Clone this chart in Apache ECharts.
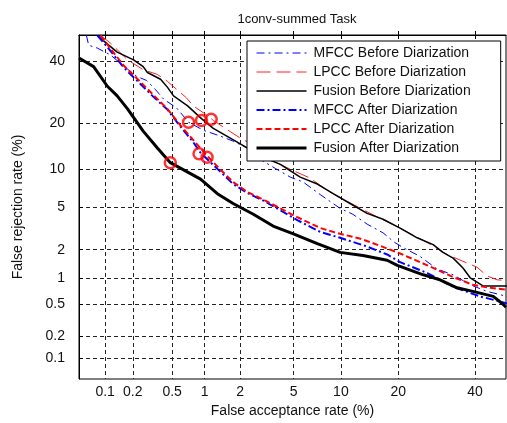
<!DOCTYPE html>
<html>
<head>
<meta charset="utf-8">
<script src="https://cdn.jsdelivr.net/npm/echarts@6/dist/echarts.min.js"></script>
<style>
    html, body { margin: 0; padding: 0; background: #fff; }
    #main { width: 507px; height: 423px; }
</style>
</head>
<body>
<div id="main"></div>
<script>
// tick labels (percent) used on both axes
var tickValues = [0.1, 0.2, 0.5, 1, 2, 5, 10, 20, 40];
var faRange = [0.05, 49.4];
var frRange = [0.05, 50];

// false acceptance (%) / false rejection (%) per system
var mfccBeforeFA = [0.061, 0.065, 0.082, 0.115, 0.154, 0.220, 0.278, 0.340, 0.412, 0.55, 0.714, 0.976, 1.36, 1.75, 2.27, 2.87, 3.71, 4.75, 5.81, 7.5, 9.9, 11.7, 14.0, 16.9, 19.3, 21.5, 25.0, 29.3, 33.7, 38.6, 43.6, 49.7];
var mfccBeforeFR = [49.9, 46.1, 45.0, 42.4, 38.8, 34.6, 33.2, 30.2, 27.0, 24.3, 20.2, 18.1, 16.7, 15.5, 14.0, 11.7, 10.1, 8.7, 7.98, 6.34, 4.86, 4.32, 3.52, 2.92, 2.35, 2.05, 1.71, 1.26, 1.09, 0.845, 0.71, 0.62];

var lpccBeforeFA = [0.089, 0.115, 0.176, 0.257, 0.358, 0.449, 0.682, 0.787, 1.03, 1.19, 1.54, 2.0, 2.73, 3.41, 4.75, 6.46, 8.6, 10.3, 12.9, 16.3, 20.4, 26.8, 32.0, 36.5, 40.6, 43.6, 46.7, 49.7];
var lpccBeforeFR = [49.8, 46.9, 40.6, 37.0, 35.3, 32.9, 27.4, 24.9, 22.3, 20.7, 18.4, 16.2, 14.2, 11.7, 9.95, 8.55, 6.64, 5.82, 4.86, 3.98, 3.24, 2.35, 1.79, 1.52, 1.32, 1.06, 0.96, 0.94];

var fusionBeforeFA = [0.082, 0.089, 0.136, 0.204, 0.257, 0.284, 0.385, 0.449, 0.515, 0.70, 0.936, 1.19, 1.66, 2.27, 3.03, 4.04, 5.55, 7.18, 9.0, 11.3, 14.0, 16.9, 20.4, 24.3, 28.3, 30.9, 33.7, 36.5, 38.6, 42.4, 49.7];
var fusionBeforeFR = [49.8, 48.7, 43.5, 40.6, 38.1, 36.0, 33.6, 30.9, 28.0, 24.9, 21.2, 18.6, 16.2, 14.0, 12.1, 10.8, 8.7, 7.7, 6.45, 5.35, 4.40, 3.90, 3.24, 2.62, 2.25, 1.88, 1.64, 1.29, 1.01, 0.82, 0.82];

var mfccAfterFA = [0.082, 0.106, 0.160, 0.242, 0.327, 0.449, 0.598, 0.787, 0.918, 1.36, 1.75, 2.27, 3.03, 4.04, 5.3, 7.5, 9.9, 14.0, 17.7, 20.4, 26.8, 33.7, 41.5, 47.6, 49.7];
var mfccAfterFR = [49.8, 45.4, 37.8, 31.9, 27.7, 23.8, 19.1, 15.3, 13.0, 9.6, 7.7, 6.55, 5.66, 4.67, 3.83, 2.98, 2.62, 2.15, 1.79, 1.49, 1.14, 0.80, 0.62, 0.54, 0.51];

var lpccAfterFA = [0.089, 0.109, 0.160, 0.242, 0.327, 0.449, 0.598, 0.787, 1.05, 1.36, 1.75, 2.27, 3.03, 4.04, 5.3, 7.5, 9.9, 12.9, 16.3, 20.4, 26.8, 33.7, 39.4, 44.6, 49.7];
var lpccAfterFR = [49.8, 45.8, 38.5, 32.6, 28.3, 24.0, 19.4, 15.8, 12.4, 9.95, 7.98, 6.68, 5.76, 4.86, 4.07, 3.24, 2.86, 2.57, 2.19, 1.83, 1.38, 1.03, 0.845, 0.78, 0.74];

var fusionAfterFA = [0.05, 0.074, 0.106, 0.136, 0.176, 0.257, 0.358, 0.48, 0.918, 1.29, 1.75, 2.54, 3.58, 4.99, 7.18, 9.9, 13.3, 17.7, 19.8, 25.8, 30.1, 34.8, 39.4, 45.5, 48.5, 49.4];
var fusionAfterFR = [41.3, 38.1, 31.2, 28.0, 24.0, 17.9, 14.0, 11.1, 8.4, 6.45, 5.35, 4.32, 3.38, 2.86, 2.30, 1.88, 1.75, 1.56, 1.38, 1.09, 0.96, 0.78, 0.71, 0.62, 0.50, 0.46];

// min DCF operating points (circled)
var minDcfFA = [0.714, 0.936, 1.14, 0.89, 1.05, 0.48];
var minDcfFR = [20.2, 20.7, 21.0, 12.8, 12.1, 11.1];

// inverse normal CDF (Acklam) -> DET plot axis
function probit(p) {
    var a = [-3.969683028665376e+01, 2.209460984245205e+02, -2.759285104469687e+02, 1.383577518672690e+02, -3.066479806614716e+01, 2.506628277459239e+00];
    var b = [-5.447609879822406e+01, 1.615858368580409e+02, -1.556989798598866e+02, 6.680131188771972e+01, -1.328068155288572e+01];
    var c = [-7.784894002430293e-03, -3.223964580411365e-01, -2.400758277161838e+00, -2.549732539343734e+00, 4.374664141464968e+00, 2.938163982698783e+00];
    var d = [7.784695709041462e-03, 3.224671290700398e-01, 2.445134137142996e+00, 3.754408661907416e+00];
    var q, r;
    if (p < 0.02425) {
        q = Math.sqrt(-2 * Math.log(p));
        return (((((c[0] * q + c[1]) * q + c[2]) * q + c[3]) * q + c[4]) * q + c[5]) /
            ((((d[0] * q + d[1]) * q + d[2]) * q + d[3]) * q + 1);
    }
    if (p <= 1 - 0.02425) {
        q = p - 0.5;
        r = q * q;
        return (((((a[0] * r + a[1]) * r + a[2]) * r + a[3]) * r + a[4]) * r + a[5]) * q /
            (((((b[0] * r + b[1]) * r + b[2]) * r + b[3]) * r + b[4]) * r + 1);
    }
    q = Math.sqrt(-2 * Math.log(1 - p));
    return -(((((c[0] * q + c[1]) * q + c[2]) * q + c[3]) * q + c[4]) * q + c[5]) /
        ((((d[0] * q + d[1]) * q + d[2]) * q + d[3]) * q + 1);
}

function toDet(fa, fr) {
    var out = [];
    for (var i = 0; i < fa.length; i++) {
        out.push([probit(fa[i] / 100), probit(fr[i] / 100)]);
    }
    return out;
}

var tickPos = tickValues.map(function (t) { return probit(t / 100); });

function tickLabel(v) {
    for (var i = 0; i < tickPos.length; i++) {
        if (Math.abs(tickPos[i] - v) < 1e-6) return String(tickValues[i]);
    }
    return '';
}

var font = 'Liberation Sans, Arial, sans-serif';
var gridLine = { show: true, lineStyle: { color: '#222', width: 1, type: [4, 3] } };

function lineSeries(name, data, color, width, dash, z) {
    return {
        name: name,
        type: 'line',
        data: data,
        symbol: 'none',
        z: z,
        lineStyle: { color: color, width: width, type: dash },
        itemStyle: { color: color }
    };
}

var myChart = echarts.init(document.getElementById('main'));
var option = {
    animation: false,
    backgroundColor: '#fff',
    title: {
        text: '1conv-summed Task',
        left: 292,
        top: 8,
        textAlign: 'center',
        textStyle: { fontFamily: font, fontSize: 13, fontWeight: 'normal', color: '#111' }
    },
    grid: {
        left: 79, right: 1, top: 35, bottom: 36,
        show: true, borderColor: '#000', borderWidth: 1
    },
    legend: {
        orient: 'vertical',
        left: 247,
        top: 41,
        itemWidth: 50,
        itemHeight: 14,
        itemGap: 5,
        padding: [5, 30, 6, 8],
        backgroundColor: '#fff',
        borderColor: '#000',
        borderWidth: 1,
        borderRadius: 0,
        itemStyle: { opacity: 0 },
        lineStyle: { width: 'inherit' },
        textStyle: { fontFamily: font, fontSize: 14, color: '#111', padding: [0, 0, 0, 2] },
        data: ['MFCC Before Diarization', 'LPCC Before Diarization', 'Fusion Before Diarization',
            'MFCC After Diarization', 'LPCC After Diarization', 'Fusion After Diarization']
    },
    xAxis: [{
        type: 'value',
        min: probit(faRange[0] / 100),
        max: probit(faRange[1] / 100),
        name: 'False acceptance rate (%)',
        nameLocation: 'middle',
        nameGap: 25,
        nameTextStyle: { fontFamily: font, fontSize: 14, color: '#111' },
        axisLine: { show: true, lineStyle: { color: '#000' } },
        axisTick: { inside: true, length: 4, customValues: tickPos, lineStyle: { color: '#000' } },
        axisLabel: { customValues: tickPos, formatter: tickLabel, margin: 6, fontFamily: font, fontSize: 14, color: '#111' },
        splitLine: gridLine
    }, {
        type: 'value',
        position: 'top',
        min: probit(faRange[0] / 100),
        max: probit(faRange[1] / 100),
        axisLine: { show: false },
        axisTick: { inside: true, length: 4, customValues: tickPos, lineStyle: { color: '#000' } },
        axisLabel: { show: false },
        splitLine: { show: false }
    }],
    yAxis: {
        type: 'value',
        min: probit(frRange[0] / 100),
        max: probit(frRange[1] / 100),
        name: 'False rejection rate (%)',
        nameLocation: 'middle',
        nameGap: 54,
        nameTextStyle: { fontFamily: font, fontSize: 14, color: '#111' },
        axisLine: { show: true, lineStyle: { color: '#000' } },
        axisTick: { inside: true, length: 4, customValues: tickPos, lineStyle: { color: '#000' } },
        axisLabel: { customValues: tickPos, formatter: tickLabel, margin: 14, fontFamily: font, fontSize: 14, color: '#111' },
        splitLine: gridLine
    },
    series: [
        lineSeries('MFCC Before Diarization', toDet(mfccBeforeFA, mfccBeforeFR), '#0000ff', 1, [8, 4, 2, 4], 3),
        lineSeries('LPCC Before Diarization', toDet(lpccBeforeFA, lpccBeforeFR), '#ff2020', 1, [14, 6], 3),
        lineSeries('Fusion Before Diarization', toDet(fusionBeforeFA, fusionBeforeFR), '#000000', 1.5, 'solid', 3),
        lineSeries('MFCC After Diarization', toDet(mfccAfterFA, mfccAfterFR), '#0000ff', 2, [8, 3, 2, 3], 4),
        lineSeries('LPCC After Diarization', toDet(lpccAfterFA, lpccAfterFR), '#ff0000', 2, [6, 3], 4),
        lineSeries('Fusion After Diarization', toDet(fusionAfterFA, fusionAfterFR), '#000000', 3, 'solid', 4),
        {
            name: 'min DCF',
            type: 'scatter',
            data: toDet(minDcfFA, minDcfFR),
            symbol: 'circle',
            symbolSize: 11,
            z: 6,
            itemStyle: { color: 'rgba(0,0,0,0)', borderColor: '#ff0000', borderWidth: 2.5 }
        }
    ]
};
myChart.setOption(option);
</script>
</body>
</html>
